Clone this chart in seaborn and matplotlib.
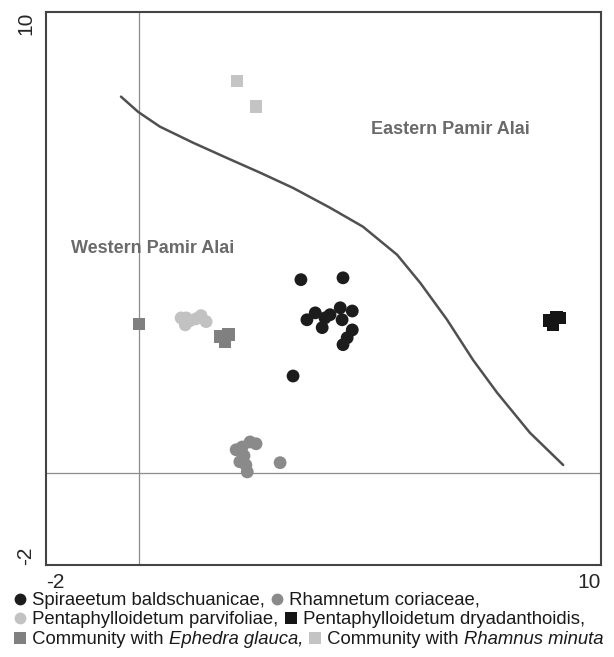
import matplotlib
matplotlib.use("Agg")
import matplotlib.pyplot as plt
from matplotlib.lines import Line2D
from matplotlib.offsetbox import TextArea, DrawingArea, HPacker, VPacker, AnchoredOffsetbox
import pandas as pd
import seaborn as sns

# ordination scores
spir_x = [3.51, 4.42, 3.64, 3.82, 3.97, 4.03, 4.14, 4.36, 4.40, 4.62, 4.62, 4.51, 4.42, 3.34]
spir_y = [4.19, 4.23, 3.32, 3.47, 3.15, 3.36, 3.43, 3.58, 3.32, 3.51, 3.10, 2.93, 2.78, 2.10]
rham_x = [2.11, 2.24, 2.41, 2.54, 2.19, 2.32, 2.35, 2.28, 3.06]
rham_y = [0.50, 0.56, 0.67, 0.63, 0.24, 0.17, 0.02, 0.37, 0.22]
parv_x = [0.92, 1.01, 1.11, 1.24, 1.35, 1.46, 1.03]
parv_y = [3.36, 3.21, 3.30, 3.34, 3.41, 3.28, 3.36]
drya_x = [8.88, 9.03, 9.11, 8.96]
drya_y = [3.30, 3.38, 3.36, 3.21]
ephe_x = [0.01, 1.76, 1.94, 1.87]
ephe_y = [3.23, 2.95, 3.00, 2.84]
rmin_x = [2.13, 2.54]
rmin_y = [8.50, 7.94]

# boundary line between the two regions
line_x = [-0.38, -0.01, 0.46, 1.18, 1.91, 2.63, 3.34, 4.14, 4.85, 5.59, 6.09,
          6.67, 7.23, 7.75, 8.46, 9.18]
line_y = [8.16, 7.83, 7.51, 7.16, 6.83, 6.51, 6.18, 5.75, 5.34, 4.73, 4.12,
          3.32, 2.45, 1.74, 0.87, 0.17]

communities = ["Spiraeetum", "Rhamnetum", "Parvifoliae", "Dryadanthoidis", "Ephedra", "Rhamnus"]
colors = ["#1c1c1c", "#8a8a8a", "#c2c2c2", "#151515", "#808080", "#c4c4c4"]
markers = ["o", "o", "o", "s", "s", "s"]

legend_lines = [
    [(0, "Spiraeetum baldschuanicae, ", None), (1, "Rhamnetum coriaceae,", None)],
    [(2, "Pentaphylloidetum parvifoliae, ", None), (3, "Pentaphylloidetum dryadanthoidis,", None)],
    [(4, "Community with ", "Ephedra glauca, "), (5, "Community with ", "Rhamnus minuta")],
]

xs = [spir_x, rham_x, parv_x, drya_x, ephe_x, rmin_x]
ys = [spir_y, rham_y, parv_y, drya_y, ephe_y, rmin_y]
rows = []
for name, xv, yv in zip(communities, xs, ys):
    for a, b in zip(xv, yv):
        rows.append({"x": a, "y": b, "community": name})
df = pd.DataFrame(rows)

sns.set_style("white")
plt.rcParams["font.family"] = ["Liberation Sans", "DejaVu Sans"]

fig = plt.figure(figsize=(6.14, 6.57), dpi=100)
ax = fig.add_axes([0.075, 0.140, 0.904, 0.842])

ax.axvline(0, color="#8c8c8c", lw=0.9, zorder=1)
ax.axhline(0, color="#8c8c8c", lw=0.9, zorder=1)

sns.lineplot(x=line_x, y=line_y, color="#505050", lw=1.8, ax=ax, zorder=2)

sns.scatterplot(data=df, x="x", y="y", hue="community", style="community",
                palette=dict(zip(communities, colors)),
                markers=dict(zip(communities, markers)),
                s=85, linewidth=0, legend=False, ax=ax, zorder=3)

ax.text(0.31, 4.86, "Western Pamir Alai", color="#6a6a6a", fontsize=13,
        fontweight="bold", ha="center", va="center")
ax.text(6.74, 7.44, "Eastern Pamir Alai", color="#6a6a6a", fontsize=13,
        fontweight="bold", ha="center", va="center")

ax.set_xlim(-2, 10)
ax.set_ylim(-2, 10)
ax.set_xlabel("")
ax.set_ylabel("")
ax.set_xticks([-2, 0, 2, 4, 6, 8, 10])
ax.set_yticks([-2, 0, 2, 4, 6, 8, 10])
ax.set_xticklabels(["-2", "", "", "", "", "", "10"], fontsize=15)
ax.set_yticklabels(["-2", "", "", "", "", "", "10"], fontsize=15, rotation=90)
xl = ax.get_xticklabels()
xl[0].set_ha("left")
xl[-1].set_ha("right")
yl = ax.get_yticklabels()
yl[0].set_va("bottom")
yl[-1].set_va("top")
ax.tick_params(direction="in", length=4, width=1, color="#444444")
ax.tick_params(axis="x", pad=6)
ax.tick_params(axis="y", pad=8)
for sp in ax.spines.values():
    sp.set_color("#444444")
    sp.set_linewidth(1.5)

# legend written as running text under the plot
fs = 13.3
line_boxes = []
for line in legend_lines:
    parts = []
    for idx, text, italic in line:
        da = DrawingArea(10, 9, 0, 0)
        da.add_artist(Line2D([5], [4.5], marker=markers[idx], markersize=8.5 if markers[idx] == "o" else 8,
                             color=colors[idx], markeredgewidth=0, linestyle="none"))
        parts.append(da)
        parts.append(TextArea(" " + text, textprops=dict(color="#1a1a1a", fontsize=fs)))
        if italic:
            parts.append(TextArea(italic, textprops=dict(color="#1a1a1a", fontsize=fs,
                                                         style="italic")))
    line_boxes.append(HPacker(children=parts, pad=0, sep=0, align="baseline"))
box = VPacker(children=line_boxes, pad=0, sep=1.8, align="left")
anchored = AnchoredOffsetbox(loc="upper left", child=box, pad=0, borderpad=0,
                             frameon=False, bbox_to_anchor=(0.022, 0.099),
                             bbox_transform=fig.transFigure)
fig.add_artist(anchored)

fig.savefig("out.png", dpi=100)
